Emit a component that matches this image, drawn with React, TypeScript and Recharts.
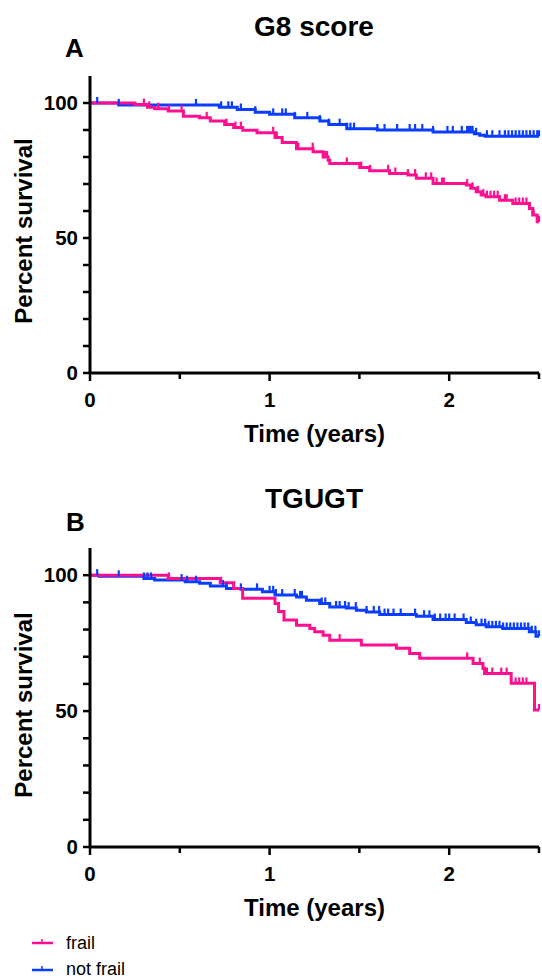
import { LineChart, Line, XAxis, YAxis } from "recharts";

// survival curves: step times (years), survival after step (%), censor times
const g8FrailTimes = [0.25, 0.32, 0.36, 0.435, 0.52, 0.61, 0.67, 0.75, 0.8, 0.85, 0.93, 1.03, 1.07, 1.15, 1.242, 1.298, 1.326, 1.335, 1.502, 1.557, 1.668, 1.77, 1.817, 1.91, 2.095, 2.12, 2.15, 2.178, 2.205, 2.28, 2.354, 2.447, 2.465, 2.49];
const g8FrailSurv = [99.4, 98.4, 97.9, 97.0, 95.1, 94.5, 93.3, 92.0, 90.9, 89.9, 89.0, 87.2, 85.4, 83.1, 81.9, 80.0, 78.8, 77.6, 76.1, 74.9, 73.9, 73.3, 72.1, 70.2, 69.6, 68.4, 67.1, 65.9, 65.3, 64.0, 62.8, 60.9, 58.5, 56.0];
const g8FrailCensored = [0.3, 0.33, 0.38, 0.44, 0.51, 0.65, 0.76, 0.81, 0.84, 1.02, 1.04, 1.16, 1.24, 1.31, 1.32, 1.43, 1.51, 1.56, 1.66, 1.7, 1.77, 1.81, 1.87, 1.9, 1.93, 1.96, 1.97, 2.1, 2.13, 2.16, 2.19, 2.21, 2.23, 2.25, 2.27, 2.31, 2.32, 2.37, 2.39, 2.41, 2.43, 2.47, 2.5];

const g8NotFrailTimes = [0.16, 0.72, 0.82, 0.92, 1.0, 1.14, 1.28, 1.33, 1.43, 1.6, 1.91, 2.14, 2.17, 2.2];
const g8NotFrailSurv = [99.3, 98.4, 97.6, 96.6, 95.8, 94.5, 93.3, 92.0, 90.5, 90.0, 89.3, 88.6, 88.1, 87.7];
const g8NotFrailCensored = [0.04, 0.16, 0.59, 0.73, 0.77, 0.79, 0.84, 0.92, 1.02, 1.07, 1.09, 1.14, 1.21, 1.28, 1.33, 1.39, 1.43, 1.45, 1.47, 1.6, 1.64, 1.71, 1.78, 1.81, 1.85, 1.91, 1.99, 2.02, 2.07, 2.1, 2.11, 2.12, 2.13, 2.15, 2.21, 2.24, 2.28, 2.31, 2.33, 2.35, 2.37, 2.39, 2.41, 2.43, 2.45, 2.47, 2.49, 2.5];

const tgFrailTimes = [0.435, 0.725, 0.8, 0.85, 1.03, 1.05, 1.08, 1.15, 1.224, 1.251, 1.298, 1.335, 1.511, 1.706, 1.78, 1.836, 2.133, 2.188, 2.197, 2.345, 2.475];
const tgFrailSurv = [98.8, 97.2, 95.1, 91.5, 89.6, 86.6, 83.5, 81.6, 80.4, 79.2, 77.9, 76.1, 74.3, 73.1, 71.2, 69.4, 67.5, 65.7, 63.8, 60.2, 50.4];
const tgFrailCensored = [0.44, 0.73, 0.8, 1.39, 2.1, 2.17, 2.21, 2.24, 2.29, 2.32, 2.37, 2.39, 2.41, 2.43, 2.5];

const tgNotFrailTimes = [0.05, 0.3, 0.36, 0.53, 0.61, 0.67, 0.76, 0.84, 0.96, 1.03, 1.15, 1.205, 1.279, 1.335, 1.427, 1.483, 1.539, 1.613, 1.817, 1.91, 2.095, 2.15, 2.206, 2.298, 2.446, 2.483];
const tgNotFrailSurv = [99.6, 98.8, 98.2, 97.6, 97.0, 96.0, 95.1, 94.8, 93.9, 92.7, 92.0, 90.8, 89.6, 88.3, 87.9, 87.1, 86.5, 85.5, 84.9, 83.7, 82.6, 81.8, 81.0, 80.4, 79.2, 77.5];
const tgNotFrailCensored = [0.04, 0.16, 0.3, 0.32, 0.34, 0.51, 0.54, 0.59, 0.74, 0.76, 0.84, 0.93, 1.0, 1.02, 1.035, 1.07, 1.14, 1.17, 1.18, 1.29, 1.31, 1.37, 1.39, 1.42, 1.44, 1.48, 1.54, 1.58, 1.61, 1.64, 1.66, 1.69, 1.73, 1.81, 1.86, 1.89, 1.92, 1.95, 1.98, 2.0, 2.03, 2.08, 2.12, 2.15, 2.18, 2.2, 2.22, 2.24, 2.26, 2.28, 2.3, 2.32, 2.34, 2.36, 2.38, 2.4, 2.42, 2.44, 2.46, 2.48, 2.5];

const xTicks = [0, 0.5, 1, 1.5, 2, 2.5];
const yTicks = [0, 10, 20, 30, 40, 50, 60, 70, 80, 90, 100];

const PINK = "#FF0F8F";
const BLUE = "#0a3dff";
const FONT = "'Liberation Sans', Arial, Helvetica, sans-serif";

type Pt = { t: number; s: number; c: boolean };

function buildCurve(times: number[], surv: number[], censored: number[]): Pt[] {
  const ev: { t: number; s?: number }[] = [];
  times.forEach((t, i) => ev.push({ t, s: surv[i] }));
  censored.forEach((t) => ev.push({ t }));
  ev.sort((a, b) => a.t - b.t || (a.s === undefined ? 1 : -1));
  let cur = 100;
  const pts: Pt[] = [{ t: 0, s: 100, c: false }];
  ev.forEach((e) => {
    if (e.s !== undefined) {
      cur = e.s;
      pts.push({ t: e.t, s: cur, c: false });
    } else {
      pts.push({ t: e.t, s: cur, c: true });
    }
  });
  if (pts[pts.length - 1].t < 2.5) pts.push({ t: 2.5, s: cur, c: false });
  return pts;
}

const g8Frail = buildCurve(g8FrailTimes, g8FrailSurv, g8FrailCensored);
const g8NotFrail = buildCurve(g8NotFrailTimes, g8NotFrailSurv, g8NotFrailCensored);
const tgFrail = buildCurve(tgFrailTimes, tgFrailSurv, tgFrailCensored);
const tgNotFrail = buildCurve(tgNotFrailTimes, tgNotFrailSurv, tgNotFrailCensored);

const censorDot = (color: string) => (p: any) => {
  if (!p.payload?.c) return <g key={p.index} />;
  return (
    <line
      key={p.index}
      x1={p.cx}
      x2={p.cx}
      y1={p.cy}
      y2={p.cy - 6}
      stroke={color}
      strokeWidth={2.2}
    />
  );
};

const YTick = (props: any) => {
  const { x, y, payload } = props;
  const major = payload.value % 50 === 0;
  return (
    <g>
      <line x1={x - 7} x2={x} y1={y} y2={y} stroke="#000" strokeWidth={2.5} />
      {major && (
        <text
          x={x - 12}
          y={y + 7}
          textAnchor="end"
          fontFamily={FONT}
          fontWeight="bold"
          fontSize={20.5}
          fill="#000"
        >
          {payload.value}
        </text>
      )}
    </g>
  );
};

const XTick = (props: any) => {
  const { x, y, payload } = props;
  const major = Number.isInteger(payload.value);
  return (
    <g>
      <line x1={x} x2={x} y1={y} y2={y + (major ? 8 : 6)} stroke="#000" strokeWidth={2.5} />
      {major && (
        <text
          x={x}
          y={y + 34}
          textAnchor="middle"
          fontFamily={FONT}
          fontWeight="bold"
          fontSize={20.5}
          fill="#000"
        >
          {payload.value}
        </text>
      )}
    </g>
  );
};

function Panel({
  frail,
  notFrail,
  height,
  top,
  bottom,
}: {
  frail: Pt[];
  notFrail: Pt[];
  height: number;
  top: number;
  bottom: number;
}) {
  return (
    <LineChart width={542} height={height} margin={{ top, right: 3, left: 0, bottom }}>
      <XAxis
        type="number"
        dataKey="t"
        domain={[0, 2.5]}
        ticks={xTicks}
        interval={0}
        height={87}
        tickSize={0}
        tickMargin={0}
        tickLine={false}
        tick={<XTick />}
        axisLine={{ stroke: "#000", strokeWidth: 3 }}
        allowDuplicatedCategory={false}
      />
      <YAxis
        type="number"
        domain={[0, 110]}
        ticks={yTicks}
        interval={0}
        width={90}
        tickSize={0}
        tickMargin={0}
        tickLine={false}
        tick={<YTick />}
        axisLine={{ stroke: "#000", strokeWidth: 3 }}
      />
      <Line
        data={notFrail}
        dataKey="s"
        type="stepAfter"
        stroke={BLUE}
        strokeWidth={3}
        dot={censorDot(BLUE)}
        activeDot={false}
        isAnimationActive={false}
      />
      <Line
        data={frail}
        dataKey="s"
        type="stepAfter"
        stroke={PINK}
        strokeWidth={3}
        dot={censorDot(PINK)}
        activeDot={false}
        isAnimationActive={false}
      />
    </LineChart>
  );
}

export default function App() {
  const bold = { fontFamily: FONT, fontWeight: "bold" as const, fill: "#000" };
  return (
    <div style={{ position: "absolute", left: 0, top: 0, width: 542, height: 979, background: "#fff" }}>
      <div style={{ position: "absolute", left: 0, top: 0 }}>
        <Panel frail={g8Frail} notFrail={g8NotFrail} height={460} top={76} bottom={0} />
      </div>
      <div style={{ position: "absolute", left: 0, top: 460 }}>
        <Panel frail={tgFrail} notFrail={tgNotFrail} height={519} top={88} bottom={45} />
      </div>
      <svg
        width={542}
        height={979}
        style={{ position: "absolute", left: 0, top: 0, pointerEvents: "none" }}
      >
        <text x={314} y={36} textAnchor="middle" fontSize={28} {...bold}>G8 score</text>
        <text x={65} y={57} fontSize={26} {...bold}>A</text>
        <text x={314} y={508} textAnchor="middle" fontSize={28} {...bold}>TGUGT</text>
        <text x={66} y={531} fontSize={26} {...bold}>B</text>
        <text x={314.5} y={442} textAnchor="middle" fontSize={24} {...bold}>Time (years)</text>
        <text x={314.5} y={916} textAnchor="middle" fontSize={24} {...bold}>Time (years)</text>
        <text x={32} y={231} textAnchor="middle" fontSize={24} transform="rotate(-90 32 231)" {...bold}>
          Percent survival
        </text>
        <text x={32} y={705} textAnchor="middle" fontSize={24} transform="rotate(-90 32 705)" {...bold}>
          Percent survival
        </text>
        <line x1={32} x2={53} y1={943} y2={943} stroke={PINK} strokeWidth={2.5} />
        <line x1={42} x2={42} y1={943} y2={939} stroke={PINK} strokeWidth={1.5} />
        <text x={66} y={949} fontSize={18} fontFamily={FONT} fill="#000">frail</text>
        <line x1={32} x2={53} y1={970} y2={970} stroke={BLUE} strokeWidth={2.5} />
        <line x1={42} x2={42} y1={970} y2={966} stroke={BLUE} strokeWidth={1.5} />
        <text x={66} y={975} fontSize={18} fontFamily={FONT} fill="#000">not frail</text>
      </svg>
    </div>
  );
}
